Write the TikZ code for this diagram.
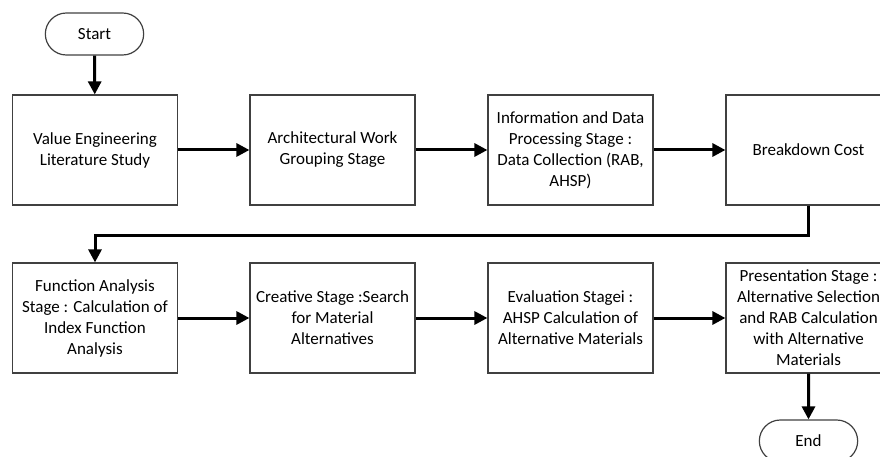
\documentclass[tikz,border=0pt]{standalone}
\usepackage{fontspec}
\setmainfont{Carlito}
\usetikzlibrary{arrows.meta,shapes.misc}
\tikzset{
  stagebox/.style={draw=black!75, line width=1.2pt, minimum width=165pt, minimum height=110pt,
    align=center, inner sep=2pt, font=\fontsize{17}{21}\selectfont},
  termbox/.style={draw=black!75, line width=1.2pt, rounded rectangle, minimum width=105pt,
    minimum height=42pt, font=\fontsize{17}{21}\selectfont},
  flow/.style={line width=3pt, -{Triangle[length=13pt,width=13pt]}}
}
\begin{document}
\begin{tikzpicture}[x=1pt,y=-1pt]
\useasboundingbox (0,0) rectangle (880,457);

\node[termbox] (start) at (94.5,34) {Start};

\node[stagebox] (lit) at (95,150) {Value Engineering\\Literature Study};
\node[stagebox] (group) at (332.5,150) {Architectural Work\\Grouping Stage};
\node[stagebox] (data) at (570.5,150) {Information and Data\\Processing Stage :\\Data Collection (RAB,\\AHSP)};
\node[stagebox] (cost) at (808.5,150) {Breakdown Cost};

\node[stagebox] (func) at (95,318) {Function Analysis\\Stage : Calculation of\\Index Function\\Analysis};
\node[stagebox] (creat) at (332.5,318) {Creative Stage :Search\\for Material\\Alternatives};
\node[stagebox] (eval) at (570.5,318) {Evaluation Stagei :\\AHSP Calculation of\\Alternative Materials};
\node[stagebox] (pres) at (808.5,318) {Presentation Stage :\\Alternative Selection\\and RAB Calculation\\with Alternative\\Materials};

\node[termbox] (fin) at (808.5,441) {End};

\foreach \u/\v in {%
    lit/group,
    group/data,
    data/cost,
    func/creat,
    creat/eval,
    eval/pres%
    }{
    \draw (\u) edge[flow] (\v);
}

\draw[flow] (start) -- (lit);
\draw[flow] (cost.south) -- ++(0,30) -| (func.north);
\draw[flow] (pres) -- (fin);

\end{tikzpicture}
\end{document}
